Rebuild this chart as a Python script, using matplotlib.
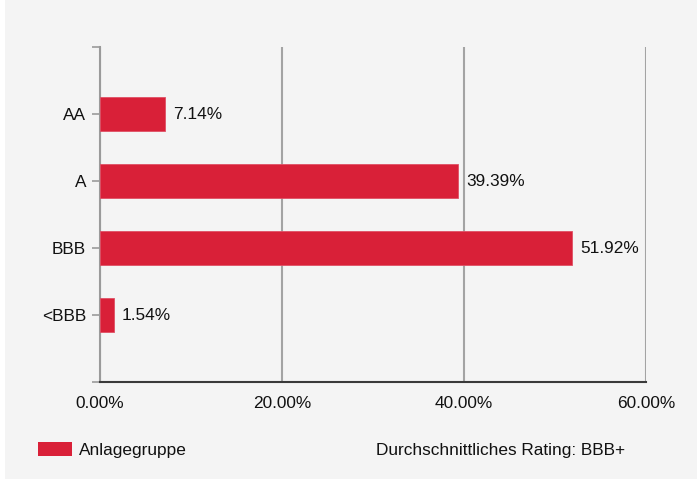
import matplotlib.pyplot as plt
from matplotlib.patches import Rectangle, Patch

plt.rcParams['font.family'] = ['Liberation Sans', 'DejaVu Sans']

ratings = ["AA", "A", "BBB", "<BBB"]
shares = [7.14, 39.39, 51.92, 1.54]
xticks = [0, 20, 40, 60]
series_name = "Anlagegruppe"
note = "Durchschnittliches Rating: BBB+"

bg = "#f4f4f4"
red = "#d92038"
fs = 12.4

fig = plt.figure(figsize=(6.97, 4.79), dpi=100, facecolor=bg)
# thin white strip on the left edge
fig.patches.append(Rectangle((0, 0), 5 / 697, 1, transform=fig.transFigure,
                             facecolor="white", edgecolor="none", zorder=0))

ax = fig.add_axes([100 / 697, 97 / 479, 546 / 697, 335 / 479], facecolor=bg)

pos = list(range(len(ratings)))
ax.barh(pos, shares, height=0.5, color=red, edgecolor="#e05065", linewidth=0.6, zorder=3)

for p, v in zip(pos, shares):
    ax.annotate(f"{v:.2f}%", (v, p), xytext=(8, 0), textcoords="offset pixels",
                ha="left", va="center", fontsize=fs, color="#111111")

ax.set_ylim(len(ratings), -1)
ax.set_xlim(0, 60)

ax.set_yticks(pos)
ax.set_yticklabels(ratings)
ax.set_yticks([-1, len(ratings)], minor=True)
ax.tick_params(axis="y", which="both", length=6, width=1.2, color="#9a9a9a",
               labelsize=fs, pad=4, labelcolor="#111111")

ax.set_xticks(xticks)
ax.set_xticklabels([f"{t:.2f}%" for t in xticks])
ax.tick_params(axis="x", length=0, pad=10, labelsize=fs, labelcolor="#111111")

ax.grid(axis="x", color="#a3a3a3", linewidth=1.5, zorder=1)
ax.set_axisbelow(True)

for s in ["top", "right"]:
    ax.spines[s].set_visible(False)
ax.spines["left"].set_color("#9a9a9a")
ax.spines["left"].set_linewidth(1.5)
ax.spines["bottom"].set_color("#3a3a3a")
ax.spines["bottom"].set_linewidth(1.5)

fig.legend(handles=[Patch(facecolor=red, edgecolor="none", label=series_name)],
           loc="center left", bbox_to_anchor=(38 / 697, 1 - 450 / 479),
           frameon=False, borderpad=0, borderaxespad=0,
           handlelength=1.95, handleheight=0.85, handletextpad=0.42,
           fontsize=fs, labelcolor="#111111")

fig.text(376 / 697, 1 - 450 / 479, note, ha="left", va="center",
         fontsize=fs, color="#111111")

fig.savefig("out.png", dpi=100, facecolor=bg)
